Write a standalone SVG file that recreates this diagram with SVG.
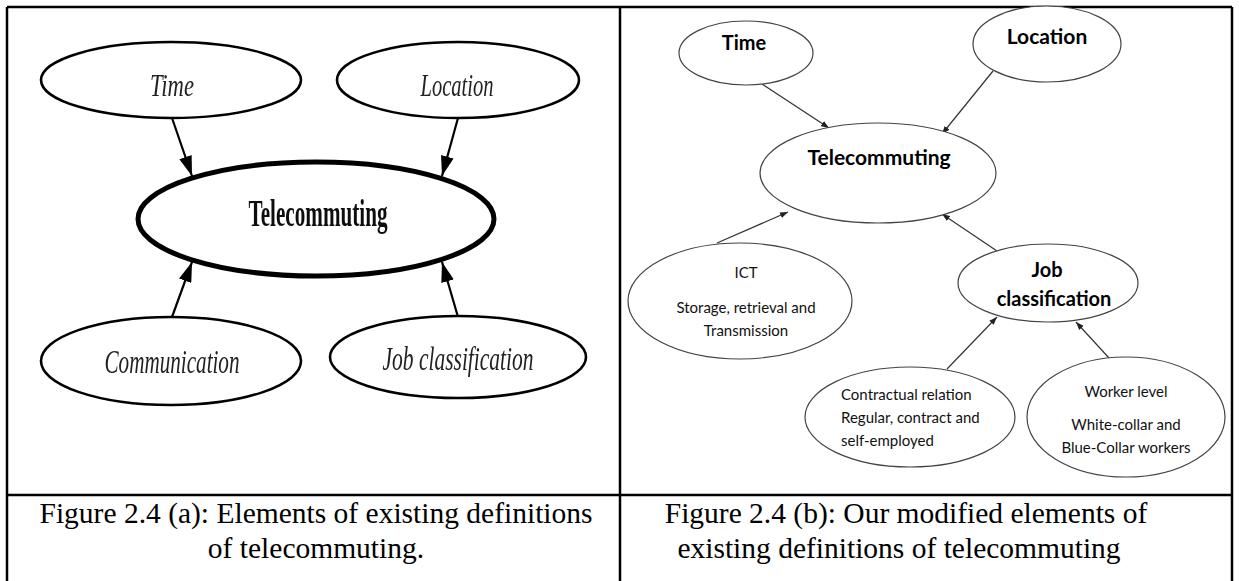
<svg xmlns="http://www.w3.org/2000/svg" width="1239" height="581" viewBox="0 0 1239 581">
  <style>
    .frame { stroke: #000; stroke-width: 2.5; fill: none; }
    .a-node { fill: #fff; stroke: #000; stroke-width: 2.6; }
    .a-core { fill: #fff; stroke: #000; stroke-width: 5; }
    .a-label { font-family: "Liberation Serif", "Times New Roman", serif; font-style: italic; fill: #222; text-anchor: middle; }
    .a-core-label { font-family: "Liberation Serif", "Times New Roman", serif; font-weight: bold; fill: #111; text-anchor: middle; }
    .a-edge { stroke: #000; stroke-width: 2.2; fill: none; }
    .b-node { fill: #fff; stroke: #444; stroke-width: 1.2; }
    .b-edge { stroke: #333; stroke-width: 1.2; fill: none; }
    .b-title { font-family: Lato, "Open Sans", sans-serif; font-weight: bold; fill: #000; text-anchor: middle; }
    .b-text { font-family: Lato, "Open Sans", sans-serif; font-size: 15px; fill: #111; }
    .caption { font-family: "Liberation Serif", "Times New Roman", serif; font-size: 29.5px; fill: #000; text-anchor: middle; }
  </style>
  <defs>
    <marker id="headA" markerUnits="userSpaceOnUse" markerWidth="20" markerHeight="13" refX="20" refY="6.5" orient="auto">
      <path d="M0,0 L20,6.5 L0,13 z" fill="#000"/>
    </marker>
    <marker id="headB" markerUnits="userSpaceOnUse" markerWidth="8" markerHeight="6" refX="8" refY="3" orient="auto">
      <path d="M0,0 L8,3 L0,6 z" fill="#222"/>
    </marker>
    <filter id="soft" x="-5%" y="-5%" width="110%" height="110%">
      <feGaussianBlur stdDeviation="0.6"/>
    </filter>
  </defs>

  <rect width="1239" height="581" fill="#fff"/>

  <!-- table frame -->
  <g id="table" class="frame">
    <line x1="7" y1="7" x2="1232" y2="7"/>
    <line x1="7" y1="7" x2="7" y2="581"/>
    <line x1="620" y1="7" x2="620" y2="581"/>
    <line x1="1232" y1="7" x2="1232" y2="581"/>
    <line x1="7" y1="495" x2="1232" y2="495"/>
  </g>

  <!-- panel (a) -->
  <g id="panel-a" filter="url(#soft)">
    <g id="a-edges">
      <line class="a-edge" x1="172" y1="118" x2="192" y2="176" marker-end="url(#headA)"/>
      <line class="a-edge" x1="458" y1="118" x2="442" y2="176" marker-end="url(#headA)"/>
      <line class="a-edge" x1="172" y1="317" x2="192" y2="262" marker-end="url(#headA)"/>
      <line class="a-edge" x1="458" y1="317" x2="442" y2="262" marker-end="url(#headA)"/>
    </g>
    <g id="a-time">
      <ellipse class="a-node" cx="171" cy="80" rx="130" ry="38"/>
      <text class="a-label" x="172" y="96" font-size="31" textLength="44" lengthAdjust="spacingAndGlyphs">Time</text>
    </g>
    <g id="a-location">
      <ellipse class="a-node" cx="458" cy="80" rx="121" ry="38"/>
      <text class="a-label" x="457" y="96" font-size="31" textLength="73" lengthAdjust="spacingAndGlyphs">Location</text>
    </g>
    <g id="a-telecommuting">
      <ellipse class="a-core" cx="316" cy="219" rx="178" ry="57"/>
      <text class="a-core-label" x="318" y="226" font-size="37" textLength="139" lengthAdjust="spacingAndGlyphs">Telecommuting</text>
    </g>
    <g id="a-communication">
      <ellipse class="a-node" cx="171" cy="361" rx="130" ry="44"/>
      <text class="a-label" x="172" y="373" font-size="33" textLength="135" lengthAdjust="spacingAndGlyphs">Communication</text>
    </g>
    <g id="a-job">
      <ellipse class="a-node" cx="458" cy="357" rx="128" ry="41"/>
      <text class="a-label" x="458" y="370" font-size="33" textLength="151" lengthAdjust="spacingAndGlyphs">Job classification</text>
    </g>
  </g>

  <!-- panel (b) -->
  <g id="panel-b">
    <g id="b-edges">
      <line class="b-edge" x1="762" y1="84" x2="829" y2="128" marker-end="url(#headB)"/>
      <line class="b-edge" x1="993" y1="71" x2="942" y2="134" marker-end="url(#headB)"/>
      <line class="b-edge" x1="717" y1="243" x2="788" y2="212" marker-end="url(#headB)"/>
      <line class="b-edge" x1="997" y1="251" x2="942" y2="214" marker-end="url(#headB)"/>
      <line class="b-edge" x1="947" y1="369" x2="997" y2="317" marker-end="url(#headB)"/>
      <line class="b-edge" x1="1109" y1="358" x2="1076" y2="322" marker-end="url(#headB)"/>
    </g>
    <g id="b-time">
      <ellipse class="b-node" cx="746" cy="53" rx="67" ry="32"/>
      <text class="b-title" x="744" y="50" font-size="20">Time</text>
    </g>
    <g id="b-location">
      <ellipse class="b-node" cx="1047" cy="44" rx="74" ry="38"/>
      <text class="b-title" x="1047" y="44" font-size="21">Location</text>
    </g>
    <g id="b-telecommuting">
      <ellipse class="b-node" cx="878" cy="173" rx="118" ry="50"/>
      <text class="b-title" x="879" y="165" font-size="21">Telecommuting</text>
    </g>
    <g id="b-ict">
      <ellipse class="b-node" cx="740" cy="301" rx="112" ry="58"/>
      <text class="b-text" x="746" y="278" text-anchor="middle">ICT</text>
      <text class="b-text" x="746" y="313" text-anchor="middle">Storage, retrieval and</text>
      <text class="b-text" x="746" y="336" text-anchor="middle">Transmission</text>
    </g>
    <g id="b-job">
      <ellipse class="b-node" cx="1048" cy="283" rx="90" ry="39"/>
      <text class="b-title" x="1047" y="277" font-size="20">Job</text>
      <text class="b-title" x="1054" y="306" font-size="20">classification</text>
    </g>
    <g id="b-contractual">
      <ellipse class="b-node" cx="910" cy="417" rx="105" ry="50"/>
      <text class="b-text" x="841" y="400">Contractual relation</text>
      <text class="b-text" x="841" y="423">Regular, contract and</text>
      <text class="b-text" x="841" y="446">self-employed</text>
    </g>
    <g id="b-worker">
      <ellipse class="b-node" cx="1126" cy="417" rx="99" ry="60"/>
      <text class="b-text" x="1126" y="397" text-anchor="middle">Worker level</text>
      <text class="b-text" x="1126" y="430" text-anchor="middle">White-collar and</text>
      <text class="b-text" x="1126" y="453" text-anchor="middle">Blue-Collar workers</text>
    </g>
  </g>

  <!-- captions -->
  <g id="captions">
    <text class="caption" x="316" y="523">Figure 2.4 (a): Elements of existing definitions</text>
    <text class="caption" x="316" y="558">of telecommuting.</text>
    <text class="caption" x="906" y="523">Figure 2.4 (b): Our modified elements of</text>
    <text class="caption" x="899" y="558">existing definitions of telecommuting</text>
  </g>
</svg>
